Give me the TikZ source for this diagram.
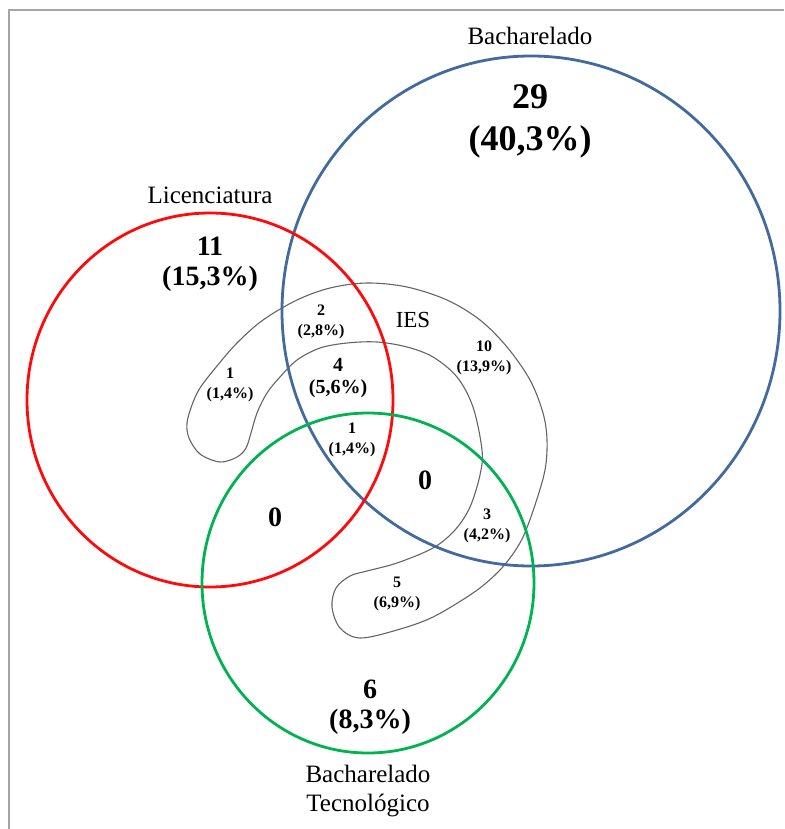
\documentclass[tikz,border=0pt]{standalone}
\usepackage{fontspec}
\setmainfont{Liberation Serif}
\usepackage{xcolor}
\usepackage{tikz}
\definecolor{vennred}{RGB}{255,10,10}
\definecolor{vennblue}{RGB}{66,106,158}
\definecolor{venngreen}{RGB}{0,178,80}
\definecolor{iesgray}{RGB}{100,100,100}
\definecolor{framegray}{RGB}{165,165,165}
\tikzset{
    venn/.style={x=1pt, y=-1pt},
    venn set/.style={line width=2.8pt},
    venn frame/.style={draw=framegray, line width=2.6pt},
    ies outline/.style={draw=iesgray, line width=1.1pt},
    venn label/.style={font=\fontsize{25}{29}\selectfont, align=center, inner sep=0pt},
    venn huge/.style={font=\bfseries\fontsize{36}{42}\selectfont, align=center, inner sep=0pt},
    venn big/.style={font=\bfseries\fontsize{28}{30}\selectfont, align=center, inner sep=0pt},
    venn mid/.style={font=\bfseries\fontsize{20}{22}\selectfont, align=center, inner sep=0pt},
    venn small/.style={font=\bfseries\fontsize{16}{20}\selectfont, align=center, inner sep=0pt},
}
\begin{document}
\begin{tikzpicture}[venn]
  \useasboundingbox (0,0) rectangle (784,829);
  \draw[venn frame] (9,829) -- (9,10) -- (784,10);
  % IES
  \draw[ies outline] plot[smooth cycle, tension=0.55] coordinates {
    (187,423) (192,405) (200,388) (217,366) (237,343) (263,320) (297,300)
    (330,288) (367,283) (407,287) (447,300) (480,320) (507,347) (530,380)
    (543,413) (547,440) (545,470) (535,505) (523,537) (510,558) (495,575)
    (473,593) (433,617) (397,630) (360,638) (340,628) (332,607) (336,588)
    (350,576) (367,571) (397,563) (433,548) (455,530) (470,507) (480,475)
    (482,450) (473,407) (457,377) (433,357) (407,347) (377,342) (347,343)
    (320,348) (297,360) (280,377) (267,393) (257,413) (251,433) (246,448)
    (237,457) (220,462) (200,454) (189,438)};
  % sets
  \draw[venn set, vennblue] (531,311) ellipse[x radius=249, y radius=255];
  \draw[venn set, vennred] (210,400) ellipse[x radius=183, y radius=187];
  \draw[venn set, venngreen] (368,583) ellipse[x radius=166, y radius=170];
  % set names
  \node[venn label] (bach) at (530,36) {Bacharelado};
  \node[venn label] (lic) at (210,195) {Licenciatura};
  \node[venn label] (tec) at (368,791) {Bacharelado\\Tecnológico};
  \node[venn label, font=\fontsize{23}{26}\selectfont] (ies) at (413,320) {IES};
  % counts
  \node[venn huge] (only bach) at (530,121) {29\\(40,3\%)};
  \node[venn big] (only lic) at (210,264) {11\\(15,3\%)};
  \node[venn big] (only tec) at (370,707) {6\\(8,3\%)};
  \node[venn big] (lic tec) at (275,517) {0};
  \node[venn big] (bach tec) at (425,480) {0};
  \node[venn small] (ies lic) at (230,385) {1\\(1,4\%)};
  \node[venn small] (ies lic bach) at (321,322) {2\\(2,8\%)};
  \node[venn mid] (ies four) at (338,378) {4\\(5,6\%)};
  \node[venn small] (ies all) at (352,440) {1\\(1,4\%)};
  \node[venn small] (ies bach) at (484,358) {10\\(13,9\%)};
  \node[venn small] (ies bach tec) at (487,526) {3\\(4,2\%)};
  \node[venn small] (ies tec) at (397,594) {5\\(6,9\%)};
\end{tikzpicture}
\end{document}
